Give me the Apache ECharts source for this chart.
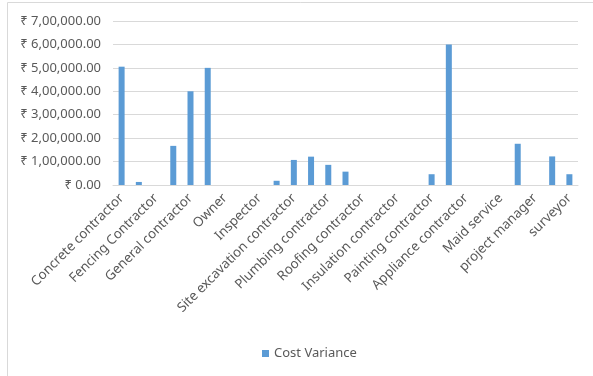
<!DOCTYPE html>
<html>
<head>
<meta charset="utf-8">
<script src="https://cdn.jsdelivr.net/npm/echarts@6/dist/echarts.min.js"></script>
<style>
  html, body { margin: 0; padding: 0; background: #fff; }
  #chart { width: 593px; height: 376px; }
</style>
</head>
<body>
<div id="chart"></div>
<script>
// Contractor cost variance; every other category label is left blank on the axis
const categories = [
  'Concrete contractor', '', 'Fencing Contractor', '', 'General contractor', '',
  'Owner', '', 'Inspector', '', 'Site excavation contractor', '',
  'Plumbing contractor', '', 'Roofing contractor', '', 'Insulation contractor', '',
  'Painting contractor', '', 'Appliance contractor', '', 'Maid service', '',
  'project manager', '', 'surveyor'
];
const costVariance = [
  505000, 13000, 0, 167000, 400000, 500000,
  0, 0, 0, 18000, 107000, 121000,
  86000, 57000, 0, 0, 0, 0,
  46000, 600000, 0, 0, 0, 176000,
  0, 122000, 46000
];
const yTicks = { min: 0, max: 700000, interval: 100000 };

// Indian digit grouping: 7,00,000.00
function rupee(v) {
  const s = Math.round(v).toString();
  let out = s;
  if (s.length > 3) {
    const last3 = s.slice(-3);
    let rest = s.slice(0, -3);
    const parts = [];
    while (rest.length > 2) {
      parts.unshift(rest.slice(-2));
      rest = rest.slice(0, -2);
    }
    if (rest.length) parts.unshift(rest);
    out = parts.join(',') + ',' + last3;
  }
  return '\u20B9 ' + out + '.00';
}

const chart = echarts.init(document.getElementById('chart'));
const font = 'Noto Sans, sans-serif';
chart.setOption({
  animation: false,
  textStyle: { fontFamily: font },
  grid: { left: 113, right: 15, top: 21, bottom: 191 },
  graphic: [
    { type: 'line', shape: { x1: 7.5, y1: 2.5, x2: 593, y2: 2.5 }, style: { stroke: '#d9d9d9', lineWidth: 1 } },
    { type: 'line', shape: { x1: 7.5, y1: 2.5, x2: 7.5, y2: 376 }, style: { stroke: '#d9d9d9', lineWidth: 1 } }
  ],
  legend: {
    bottom: 11,
    left: 257,
    icon: 'rect',
    itemWidth: 7,
    itemHeight: 7,
    itemGap: 4,
    textStyle: { color: '#595959', fontSize: 13, fontFamily: font },
    data: ['Cost Variance']
  },
  xAxis: {
    type: 'category',
    data: categories,
    axisLine: { lineStyle: { color: '#d9d9d9', width: 1 } },
    axisTick: { show: false },
    axisLabel: {
      interval: 0,
      rotate: 45,
      margin: 11,
      color: '#595959',
      fontSize: 13.3,
      fontFamily: font
    }
  },
  yAxis: {
    type: 'value',
    min: yTicks.min,
    max: yTicks.max,
    interval: yTicks.interval,
    axisLine: { show: false },
    axisTick: { show: false },
    splitLine: { lineStyle: { color: '#d9d9d9', width: 1 } },
    axisLabel: {
      color: '#595959',
      fontSize: 13,
      margin: 12,
      fontFamily: font,
      formatter: rupee
    }
  },
  series: [{
    name: 'Cost Variance',
    type: 'bar',
    data: costVariance,
    barWidth: 6,
    itemStyle: { color: '#5B9BD5' }
  }]
});
</script>
</body>
</html>
